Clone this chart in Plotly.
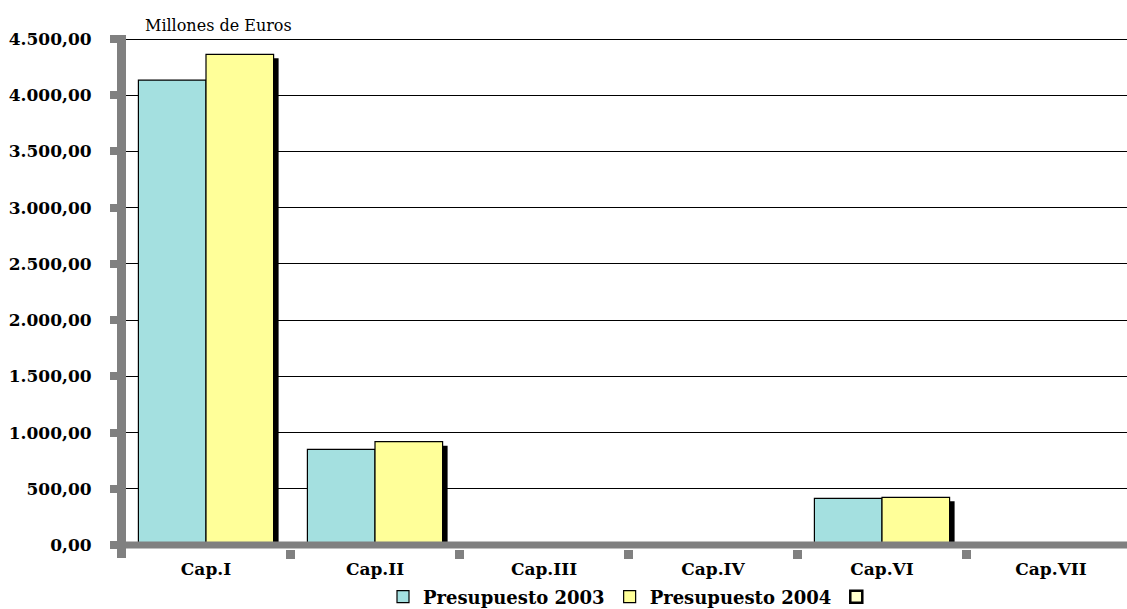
import plotly.graph_objects as go

# Budget by chapter, millions of euros
capitulos = ["Cap.I", "Cap.II", "Cap.III", "Cap.IV", "Cap.VI", "Cap.VII"]
presupuesto_2003 = [4135, 851, None, None, 415, None]
presupuesto_2004 = [4364, 919, None, None, 424, None]
y_ticks = [0, 500, 1000, 1500, 2000, 2500, 3000, 3500, 4000, 4500]

TEAL = "#A4E0E0"
YELLOW = "#FFFF99"
AXIS_GREY = "#808080"
FONT = "DejaVu Serif"

W, H = 1127, 609
PLOT_L, PLOT_R, PLOT_T, PLOT_B = 126, 1127, 35, 549
CAT_PX = 169.0            # pixels per category
ZERO_PX = 545             # vertical pixel of value 0
PX_PER_UNIT = 506 / 4500  # vertical scale

x_lo = -0.5 + (PLOT_L - 121.5) / CAT_PX
x_hi = x_lo + (PLOT_R - PLOT_L) / CAT_PX
y_lo = -(PLOT_B - ZERO_PX) / PX_PER_UNIT
y_hi = (ZERO_PX - PLOT_T) / PX_PER_UNIT

BAR_W = 0.4
SHADOW_DX = 5 / CAT_PX
SHADOW_DY = 4 / PX_PER_UNIT


def lowered(vals):
    """Shadow heights: same bars, top edge dropped a few pixels."""
    return [None if v is None else v - SHADOW_DY for v in vals]


fig = go.Figure()

# drop shadows, drawn first so the bars sit on top
for vals, off in ((presupuesto_2003, -BAR_W), (presupuesto_2004, 0.0)):
    fig.add_trace(go.Bar(
        x=capitulos, y=lowered(vals), base=0,
        width=BAR_W, offset=off + SHADOW_DX,
        marker=dict(color="black", line=dict(width=0)),
        showlegend=False, hoverinfo="skip",
    ))

fig.add_trace(go.Bar(
    x=capitulos, y=presupuesto_2003, name="Presupuesto 2003",
    width=BAR_W, offset=-BAR_W,
    marker=dict(color=TEAL, line=dict(color="black", width=1.2)),
))
fig.add_trace(go.Bar(
    x=capitulos, y=presupuesto_2004, name="Presupuesto 2004",
    width=BAR_W, offset=0.0,
    marker=dict(color=YELLOW, line=dict(color="black", width=1.2)),
))
# empty third series shown only in the legend
fig.add_trace(go.Bar(
    x=capitulos, y=[None] * len(capitulos), name=" ",
    marker=dict(color="#FFFFCC", line=dict(color="black", width=2.5)),
))

fig.update_layout(
    width=W, height=H,
    margin=dict(l=PLOT_L, r=W - PLOT_R, t=PLOT_T, b=H - PLOT_B, pad=0),
    paper_bgcolor="white", plot_bgcolor="white",
    barmode="overlay",
    separators=",.",
    font=dict(family=FONT, color="black"),
    title=dict(
        text="Millones de Euros", xref="container", yref="container",
        x=145 / W, xanchor="left", y=1 - 25 / H, yanchor="middle",
        font=dict(family=FONT, size=16, color="black"),
    ),
    legend=dict(
        orientation="h", x=0.5 + 72 / W, xref="container", xanchor="center",
        y=1 - 597 / H, yref="container", yanchor="middle",
        font=dict(family=FONT, size=18, color="black", weight="bold"),
        itemwidth=30, tracegroupgap=0, bgcolor="rgba(0,0,0,0)",
    ),
    showlegend=True,
    xaxis=dict(
        type="category", range=[x_lo, x_hi],
        showgrid=False, zeroline=False, showline=False,
        ticks="outside", tickson="boundaries", ticklen=9, tickwidth=9,
        tickcolor=AXIS_GREY,
        tickfont=dict(family=FONT, size=17, color="black", weight="bold"),
        ticklabelstandoff=8,
    ),
    yaxis=dict(
        range=[y_lo, y_hi], tickvals=y_ticks, tickformat=",.2f",
        showgrid=True, gridcolor="black", gridwidth=1,
        zeroline=False,
        showline=True, linecolor=AXIS_GREY, linewidth=9,
        ticks="outside", ticklen=7, tickwidth=8, tickcolor=AXIS_GREY,
        tickfont=dict(family=FONT, size=17, color="black", weight="bold"),
        ticklabelstandoff=15,
    ),
    shapes=[
        # thick grey baseline at zero, over the bars
        dict(type="line", xref="paper", yref="y", x0=0, x1=1, y0=0, y1=0,
             line=dict(color=AXIS_GREY, width=7), layer="above"),
        # stub continuing the value axis below the baseline
        dict(type="line", xref="paper", yref="paper",
             xsizemode="pixel", ysizemode="pixel", xanchor=0, yanchor=0,
             x0=-4.5, x1=-4.5, y0=0, y1=-9,
             line=dict(color=AXIS_GREY, width=9), layer="above"),
    ],
)

fig.write_html("out.html")
